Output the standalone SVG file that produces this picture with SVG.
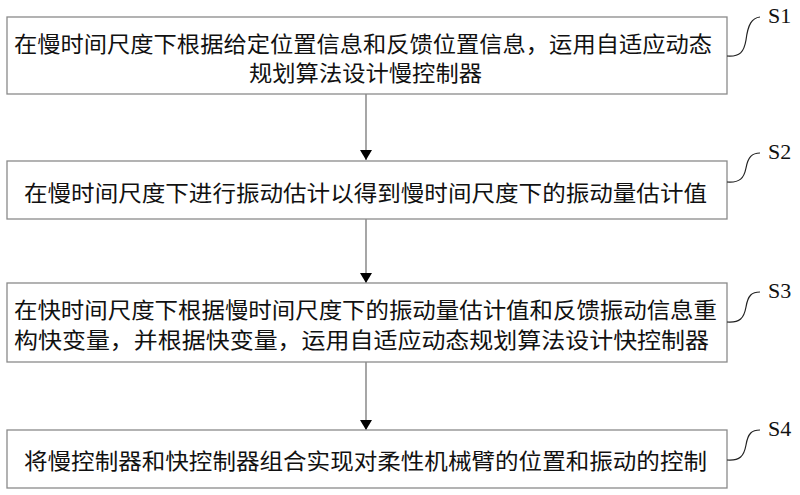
<svg xmlns="http://www.w3.org/2000/svg" width="800" height="495" viewBox="0 0 800 495">
<style>
.box{fill:#fff;stroke:#8a8a8a;stroke-width:1.3}
.t{font-family:"Noto Sans CJK SC","Noto Sans CJK JP",sans-serif;font-size:22px;fill:#111;dominant-baseline:central}
.lbl{font-family:"Liberation Serif",serif;font-size:22px;fill:#111}
.lead{fill:none;stroke:#222;stroke-width:1.2}
.arr{stroke:#777;stroke-width:1.3;fill:none}
</style>
<defs>
<marker id="ah" markerWidth="10" markerHeight="12" refX="10" refY="6" orient="auto" markerUnits="userSpaceOnUse">
<path d="M0,0 L10,6 L0,12 Z" fill="#000"/>
</marker>
</defs>
<rect width="800" height="495" fill="#fff"/>
<g id="connectors">
<line class="arr" x1="366" y1="94" x2="366" y2="160" marker-end="url(#ah)"/>
<line class="arr" x1="366" y1="219" x2="366" y2="283" marker-end="url(#ah)"/>
<line class="arr" x1="366" y1="362" x2="366" y2="430" marker-end="url(#ah)"/>
</g>
<g id="S1">
<rect class="box" x="7" y="17" width="720" height="77"/>
<text class="t" x="14" y="42" textLength="698" lengthAdjust="spacingAndGlyphs">在慢时间尺度下根据给定位置信息和反馈位置信息，运用自适应动态</text>
<text class="t" x="249" y="71" textLength="233" lengthAdjust="spacingAndGlyphs">规划算法设计慢控制器</text>
<path class="lead" d="M727,56 C740,57 744,52 746,40 C748,24 752,18 760,17"/>
<text class="lbl" x="768" y="23">S1</text>
</g>
<g id="S2">
<rect class="box" x="7" y="161" width="720" height="58"/>
<text class="t" x="24" y="191" textLength="683" lengthAdjust="spacingAndGlyphs">在慢时间尺度下进行振动估计以得到慢时间尺度下的振动量估计值</text>
<path class="lead" d="M727,182 C740,183 744,178 746,168 C748,157 752,153 760,153"/>
<text class="lbl" x="768" y="159">S2</text>
</g>
<g id="S3">
<rect class="box" x="7" y="283" width="720" height="79"/>
<text class="t" x="14" y="308" textLength="703" lengthAdjust="spacingAndGlyphs">在快时间尺度下根据慢时间尺度下的振动量估计值和反馈振动信息重</text>
<text class="t" x="14" y="338" textLength="695" lengthAdjust="spacingAndGlyphs">构快变量，并根据快变量，运用自适应动态规划算法设计快控制器</text>
<path class="lead" d="M727,322 C740,323 744,318 746,307 C748,295 752,292 760,292"/>
<text class="lbl" x="768" y="298">S3</text>
</g>
<g id="S4">
<rect class="box" x="7" y="430" width="720" height="58"/>
<text class="t" x="24" y="459" textLength="683" lengthAdjust="spacingAndGlyphs">将慢控制器和快控制器组合实现对柔性机械臂的位置和振动的控制</text>
<path class="lead" d="M727,460 C740,461 744,456 746,445 C748,433 752,430 760,430"/>
<text class="lbl" x="768" y="436">S4</text>
</g>
</svg>
